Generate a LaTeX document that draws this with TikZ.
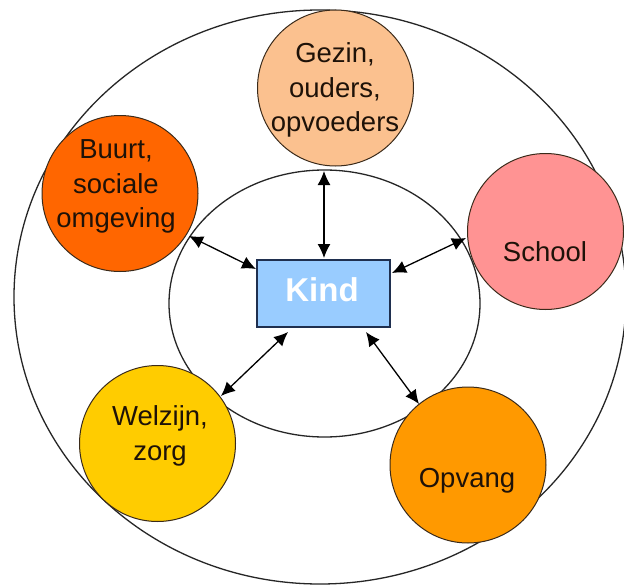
\documentclass[tikz,border=0pt]{standalone}
\usepackage{fontspec}
\setmainfont{Liberation Sans}
\usetikzlibrary{arrows.meta}
\definecolor{cgezin}{HTML}{FBC18F}
\definecolor{cbuurt}{HTML}{FF6600}
\definecolor{cschool}{HTML}{FF9393}
\definecolor{cwelzijn}{HTML}{FFCC00}
\definecolor{copvang}{HTML}{FF9900}
\definecolor{ckind}{HTML}{99CCFF}
\definecolor{ckindborder}{HTML}{1F2F4F}
\definecolor{cedge}{HTML}{3A2A1A}
\definecolor{ctext}{HTML}{1E1208}
\tikzset{
  ring/.style={draw=black!85, line width=1.3pt},
  bubble/.style={circle, draw=cedge, line width=1pt, minimum size=156pt, inner sep=0pt},
  lbl/.style={text=ctext, align=center, inner sep=0pt, font=\fontsize{27.5}{34.5}\selectfont},
  kindbox/.style={rectangle, draw=ckindborder, line width=1.3pt, fill=ckind, minimum width=133pt, minimum height=67pt, inner sep=0pt},
  tip/.style={Latex[length=14pt,width=13pt]},
  link/.style={{Latex[length=14pt,width=13pt]}-{Latex[length=14pt,width=13pt]}, line width=1.3pt, black}
}
\begin{document}
\begin{tikzpicture}[x=1pt,y=-1pt]
\useasboundingbox (0,0) rectangle (624,586);
\fill[white] (0,0) rectangle (624,586);
% rings
\draw[ring] (320,297) ellipse [x radius=306pt, y radius=287pt];
\draw[ring] (324.5,303.5) ellipse [x radius=155.5pt, y radius=133.5pt];
% bubbles
\node[bubble, fill=cgezin] (gezin) at (335.5,88) {};
\node[bubble, fill=cbuurt] (buurt) at (120,193.5) {};
\node[bubble, fill=cschool] (school) at (545.5,231.5) {};
\node[bubble, fill=cwelzijn] (welzijn) at (157.5,443.5) {};
\node[bubble, fill=copvang] (opvang) at (468,465) {};
% labels
\node[lbl] (tgezin) at (335,90) {Gezin,\\ouders,\\opvoeders};
\node[lbl] (tbuurt) at (116,186.5) {Buurt,\\sociale\\omgeving};
\node[lbl] (tschool) at (545,252) {School};
\node[lbl] (twelzijn) at (160,436) {Welzijn,\\zorg};
\node[lbl] (topvang) at (467,481) {Opvang};
% center
\node[kindbox] (kind) at (323.5,293.5) {};
\node[text=white, inner sep=0pt, font=\fontsize{33}{40}\selectfont\bfseries] (tkind) at (322,289.5) {Kind};
% arrow end points
\coordinate (g1) at (324,171);  \coordinate (g2) at (324,258);
\coordinate (b1) at (189,236);  \coordinate (b2) at (256,269);
\coordinate (s1) at (466,238);  \coordinate (s2) at (392,273);
\coordinate (w1) at (221,396);  \coordinate (w2) at (288,332);
\coordinate (o1) at (366,332);  \coordinate (o2) at (419,404);
\draw[link] (g1) -- (g2);
\draw[link] (b1) -- (b2);
\draw[link] (s1) -- (s2);
\draw[link] (w1) -- (w2);
\draw[link] (o1) -- (o2);
\end{tikzpicture}
\end{document}
